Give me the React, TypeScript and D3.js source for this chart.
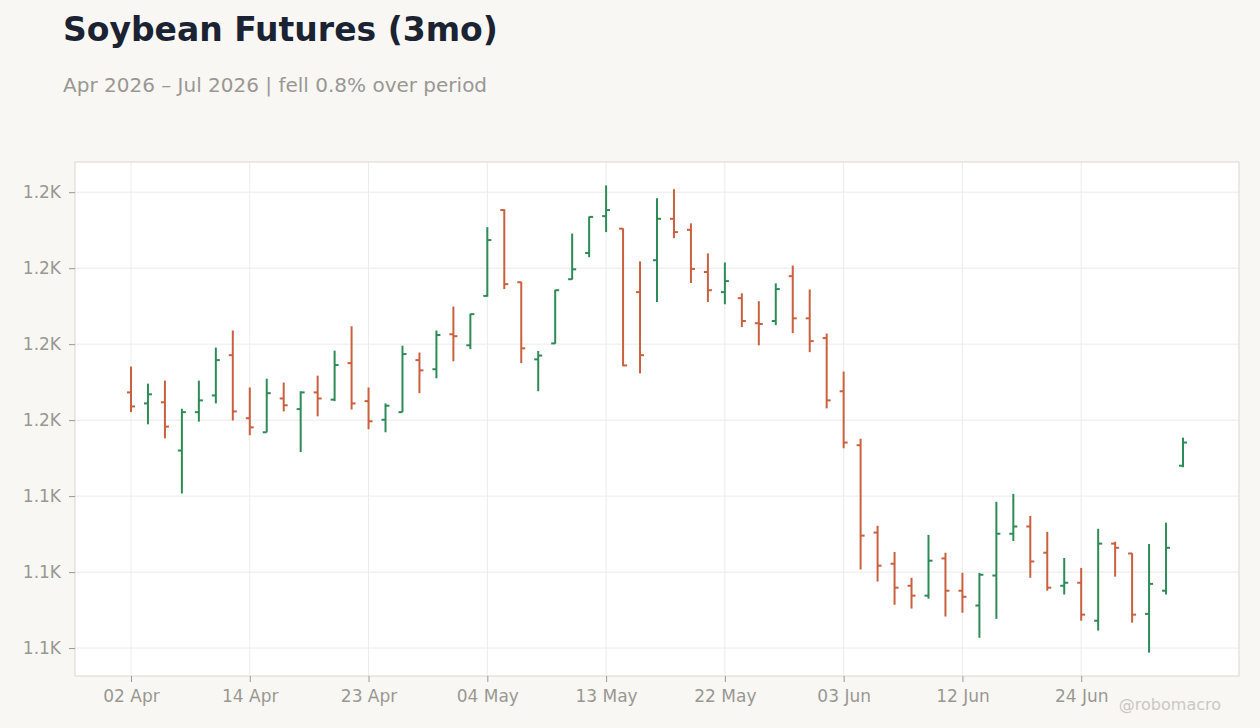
import React, { useEffect, useRef } from 'react';
import * as d3 from 'd3';

const dates = [
  '2026-04-02', '2026-04-06', '2026-04-07', '2026-04-08', '2026-04-09', '2026-04-10', '2026-04-13', '2026-04-14',
  '2026-04-15', '2026-04-16', '2026-04-17', '2026-04-20', '2026-04-21', '2026-04-22', '2026-04-23', '2026-04-24',
  '2026-04-27', '2026-04-28', '2026-04-29', '2026-04-30', '2026-05-01', '2026-05-04', '2026-05-05', '2026-05-06',
  '2026-05-07', '2026-05-08', '2026-05-11', '2026-05-12', '2026-05-13', '2026-05-14', '2026-05-15', '2026-05-18',
  '2026-05-19', '2026-05-20', '2026-05-21', '2026-05-22', '2026-05-26', '2026-05-27', '2026-05-28', '2026-05-29',
  '2026-06-01', '2026-06-02', '2026-06-03', '2026-06-04', '2026-06-05', '2026-06-08', '2026-06-09', '2026-06-10',
  '2026-06-11', '2026-06-12', '2026-06-15', '2026-06-16', '2026-06-17', '2026-06-18', '2026-06-22', '2026-06-23',
  '2026-06-24', '2026-06-25', '2026-06-26', '2026-06-29', '2026-06-30', '2026-07-01', '2026-07-02',
];

const opens = [
  1167.3, 1164.4, 1164.7, 1152.0, 1162.1, 1166.5, 1177.1, 1160.5, 1156.8, 1165.7, 1162.9, 1167.3, 1165.4, 1175.0, 1165.0, 1160.1,
  1162.1, 1175.8, 1173.4, 1182.6, 1179.7, 1192.7, 1215.3, 1196.3, 1176.0, 1180.2, 1197.1, 1204.0, 1213.7, 1210.4, 1193.7, 1202.1,
  1213.0, 1210.1, 1199.0, 1193.7, 1192.1, 1185.5, 1186.1, 1197.9, 1186.8, 1181.6, 1167.6, 1153.4, 1130.4, 1122.2, 1116.4, 1113.8,
  1123.6, 1115.1, 1111.2, 1119.1, 1130.1, 1132.0, 1125.1, 1116.4, 1117.2, 1107.2, 1127.5, 1124.9, 1109.0, 1115.1, 1148.0,
];

const highs = [
  1174.1, 1169.6, 1170.4, 1163.0, 1170.4, 1179.1, 1183.6, 1168.6, 1170.9, 1169.9, 1167.6, 1171.7, 1178.3, 1184.7, 1168.6, 1164.4,
  1179.6, 1177.8, 1183.6, 1189.9, 1188.0, 1210.8, 1215.5, 1196.4, 1178.2, 1194.3, 1209.1, 1213.6, 1221.8, 1210.5, 1201.8, 1218.4,
  1220.8, 1211.8, 1203.9, 1201.5, 1193.4, 1191.3, 1196.0, 1200.7, 1194.4, 1182.8, 1172.8, 1155.1, 1132.2, 1125.3, 1118.5, 1129.8,
  1125.1, 1119.8, 1119.8, 1138.5, 1140.6, 1134.8, 1130.6, 1123.7, 1121.1, 1131.4, 1128.0, 1125.0, 1127.4, 1133.0, 1155.4,
];

const lows = [
  1162.1, 1158.9, 1155.2, 1140.7, 1159.6, 1164.4, 1159.9, 1156.0, 1156.8, 1162.3, 1151.6, 1161.0, 1165.0, 1162.8, 1157.6, 1156.8,
  1162.1, 1167.1, 1171.0, 1175.5, 1178.7, 1192.5, 1194.5, 1175.0, 1167.6, 1180.1, 1197.0, 1202.9, 1209.5, 1174.2, 1172.3, 1191.1,
  1207.9, 1196.1, 1191.1, 1190.5, 1184.5, 1179.7, 1185.0, 1182.9, 1177.9, 1163.1, 1152.6, 1120.7, 1117.5, 1111.4, 1110.4, 1113.0,
  1108.3, 1109.3, 1102.7, 1107.7, 1128.2, 1118.5, 1115.1, 1114.1, 1107.2, 1104.6, 1118.8, 1106.7, 1098.8, 1114.1, 1147.6,
];

const closes = [
  1163.6, 1166.8, 1158.3, 1162.1, 1165.2, 1175.8, 1162.3, 1158.1, 1167.1, 1163.9, 1167.3, 1165.7, 1174.5, 1164.4, 1159.7, 1163.8,
  1177.4, 1173.1, 1182.4, 1182.1, 1187.9, 1207.4, 1195.8, 1178.9, 1177.0, 1194.2, 1199.7, 1213.5, 1215.3, 1174.4, 1177.1, 1213.0,
  1209.5, 1199.8, 1194.2, 1196.6, 1186.1, 1185.3, 1194.5, 1186.8, 1180.8, 1165.2, 1154.1, 1129.6, 1121.7, 1115.9, 1113.8, 1123.0,
  1115.1, 1113.5, 1119.3, 1130.1, 1132.0, 1122.8, 1115.9, 1117.2, 1108.8, 1127.5, 1126.4, 1108.8, 1116.9, 1126.4, 1154.1,
];

const title = 'Soybean Futures (3mo)';
const subtitle = 'Apr 2026 \u2013 Jul 2026 | fell 0.8% over period';

const WIDTH = 1260;
const HEIGHT = 728;
const UP = '#2e8b57';
const DOWN = '#c9603f';
const FONT = '"DejaVu Sans", Verdana, sans-serif';

const App: React.FC = () => {
  const svgRef = useRef<SVGSVGElement>(null);

  useEffect(() => {
    document.body.style.margin = '0';
    if (!svgRef.current) return;

    const svg = d3.select(svgRef.current);
    svg.selectAll('*').remove();

    const margin = { top: 162, right: 21, bottom: 52, left: 75 };
    const innerWidth = WIDTH - margin.left - margin.right;
    const innerHeight = HEIGHT - margin.top - margin.bottom;

    svg.append('rect')
      .attr('width', WIDTH)
      .attr('height', HEIGHT)
      .attr('fill', '#f8f7f4');

    // Title + subtitle
    svg.append('text')
      .attr('x', 63)
      .attr('y', 41)
      .attr('font-family', FONT)
      .attr('font-size', '33px')
      .attr('font-weight', 'bold')
      .attr('fill', '#1b2333')
      .text(title);

    svg.append('text')
      .attr('x', 63)
      .attr('y', 92)
      .attr('font-family', FONT)
      .attr('font-size', '20px')
      .attr('fill', '#9a9793')
      .text(subtitle);

    const g = svg.append('g')
      .attr('transform', `translate(${margin.left},${margin.top})`);

    g.append('rect')
      .attr('width', innerWidth)
      .attr('height', innerHeight)
      .attr('fill', '#ffffff');

    const idx = dates.map((_, i) => i);
    const xScale = d3.scalePoint<number>()
      .domain(idx)
      .range([0, innerWidth])
      .padding(3.3);

    const minLow = d3.min(lows) as number;
    const maxHigh = d3.max(highs) as number;
    const pad = (maxHigh - minLow) * 0.05;
    const yScale = d3.scaleLinear()
      .domain([minLow - pad, maxHigh + pad])
      .range([innerHeight, 0]);

    const yTicks = yScale.ticks(6);
    const xTicks = idx.filter(i => i % 7 === 0);

    // Grid
    g.selectAll('.hgrid')
      .data(yTicks)
      .enter()
      .append('line')
      .attr('x1', 0)
      .attr('x2', innerWidth)
      .attr('y1', d => yScale(d))
      .attr('y2', d => yScale(d))
      .attr('stroke', '#ebebeb')
      .attr('stroke-width', 1);

    g.selectAll('.vgrid')
      .data(xTicks)
      .enter()
      .append('line')
      .attr('x1', d => xScale(d) as number)
      .attr('x2', d => xScale(d) as number)
      .attr('y1', 0)
      .attr('y2', innerHeight)
      .attr('stroke', '#ebebeb')
      .attr('stroke-width', 1);

    // OHLC bars
    const bars = g.selectAll('.bar')
      .data(idx)
      .enter()
      .append('g')
      .attr('transform', i => `translate(${xScale(i)},0)`);

    const colorOf = (i: number) => (closes[i] >= opens[i] ? UP : DOWN);

    bars.append('line')
      .attr('x1', 0)
      .attr('x2', 0)
      .attr('y1', i => yScale(highs[i]))
      .attr('y2', i => yScale(lows[i]))
      .attr('stroke', colorOf)
      .attr('stroke-width', 2);

    bars.append('line')
      .attr('x1', -4)
      .attr('x2', 0)
      .attr('y1', i => yScale(opens[i]))
      .attr('y2', i => yScale(opens[i]))
      .attr('stroke', colorOf)
      .attr('stroke-width', 2);

    bars.append('line')
      .attr('x1', 0)
      .attr('x2', 4)
      .attr('y1', i => yScale(closes[i]))
      .attr('y2', i => yScale(closes[i]))
      .attr('stroke', colorOf)
      .attr('stroke-width', 2);

    // Plot border
    g.append('rect')
      .attr('width', innerWidth)
      .attr('height', innerHeight)
      .attr('fill', 'none')
      .attr('stroke', '#dcd7cf')
      .attr('stroke-width', 1);

    // Axes
    const fmtDate = d3.timeFormat('%d %b');
    const parse = d3.timeParse('%Y-%m-%d');
    const xAxis = d3.axisBottom(xScale)
      .tickValues(xTicks)
      .tickSize(6)
      .tickPadding(8)
      .tickFormat(i => fmtDate(parse(dates[i as number]) as Date));

    const xg = g.append('g')
      .attr('transform', `translate(0,${innerHeight})`)
      .call(xAxis);
    xg.select('.domain').remove();

    const yAxis = d3.axisLeft(yScale)
      .tickValues(yTicks)
      .tickSize(6)
      .tickPadding(8)
      .tickFormat(d => d3.format('.2s')(d as number).replace('k', 'K'));

    const yg = g.append('g').call(yAxis);
    yg.select('.domain').remove();

    [xg, yg].forEach(ax => {
      ax.selectAll('text')
        .attr('fill', '#9a9793')
        .attr('font-family', FONT)
        .attr('font-size', '17px');
      ax.selectAll('line').attr('stroke', '#9a9793');
    });

    // Watermark
    svg.append('text')
      .attr('x', 1221)
      .attr('y', 710)
      .attr('text-anchor', 'end')
      .attr('font-family', FONT)
      .attr('font-size', '16px')
      .attr('fill', '#cbc8c3')
      .text('@robomacro');
  }, []);

  return <svg ref={svgRef} width={WIDTH} height={HEIGHT} style={{ display: 'block' }} />;
};

export default App;
